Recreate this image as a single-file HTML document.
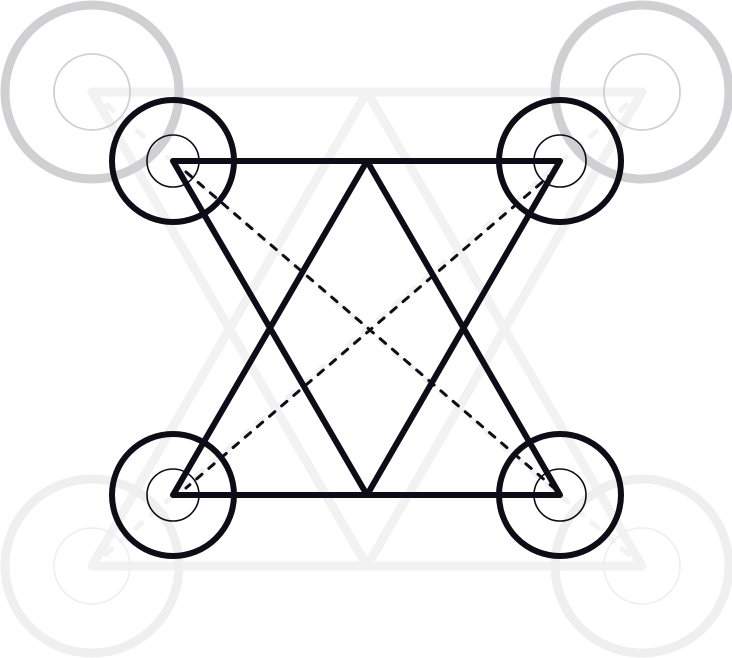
<!DOCTYPE html>
<html><head><meta charset="utf-8"><style>html,body{margin:0;padding:0;background:#fff}svg{display:block}</style></head>
<body>
<svg width="732" height="658" viewBox="0 0 732 658">
<g id="bg" fill="none" stroke-linecap="round" stroke-linejoin="round">
  <path d="M92 92 H642 M92 566 H642 M92 92 L367 566 M367 92 L92 566 M367 92 L642 566 M642 92 L367 566" stroke="#f2f2f2" stroke-width="9"/>
  <path d="M92 92 L642 566 M642 92 L92 566" stroke="#f2f2f2" stroke-width="5" stroke-dasharray="8 12"/>
  <circle cx="92" cy="92" r="87" stroke="#d0d0d2" stroke-width="9"/>
  <circle cx="92" cy="92" r="38" stroke="#d0d0d2" stroke-width="1.8"/>
  <circle cx="642" cy="92" r="87" stroke="#d0d0d2" stroke-width="9"/>
  <circle cx="642" cy="92" r="38" stroke="#d0d0d2" stroke-width="1.8"/>
  <circle cx="92" cy="566" r="87" stroke="#efefef" stroke-width="9"/>
  <circle cx="92" cy="566" r="38" stroke="#efefef" stroke-width="1.8"/>
  <circle cx="642" cy="566" r="87" stroke="#efefef" stroke-width="9"/>
  <circle cx="642" cy="566" r="38" stroke="#efefef" stroke-width="1.8"/>
</g>
<g fill="none" stroke="#0e0c16" stroke-linecap="round" stroke-linejoin="round">
  <path d="M186 172 L554 488 M554 172 L186 488" stroke-width="3" stroke-dasharray="7 9"/>
  <path d="M173 161 H560 M173 495 H560 M173 161 L367 495 M367 161 L173 495 M367 161 L560 495 M560 161 L367 495" stroke-width="6"/>
  <circle cx="173" cy="161" r="61" stroke-width="6"/>
  <circle cx="173" cy="161" r="26" stroke-width="1.6"/>
  <circle cx="560" cy="161" r="61" stroke-width="6"/>
  <circle cx="560" cy="161" r="26" stroke-width="1.6"/>
  <circle cx="173" cy="495" r="61" stroke-width="6"/>
  <circle cx="173" cy="495" r="26" stroke-width="1.6"/>
  <circle cx="560" cy="495" r="61" stroke-width="6"/>
  <circle cx="560" cy="495" r="26" stroke-width="1.6"/>
</g>
</svg>
</body></html>
